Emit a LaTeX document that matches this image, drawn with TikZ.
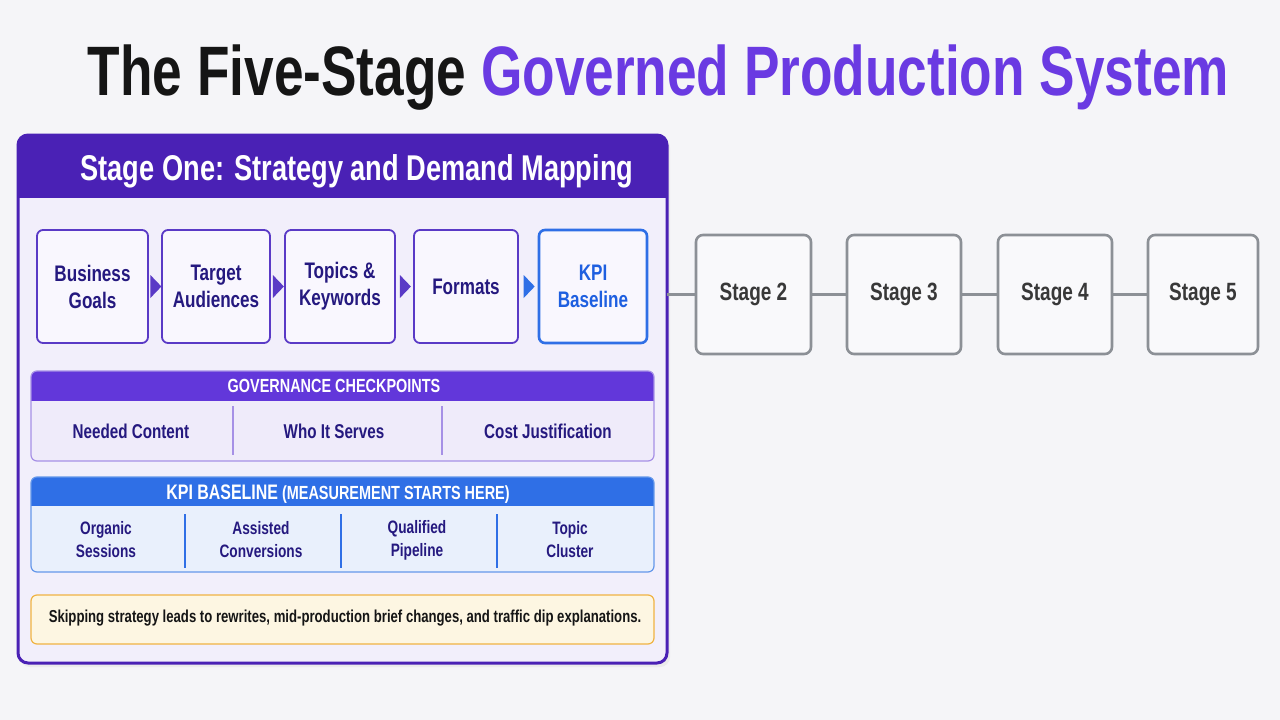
\documentclass[tikz,border=0pt]{standalone}
\usepackage{fontspec}
\setmainfont[FakeStretch=0.76]{Liberation Sans}
\usetikzlibrary{positioning,shapes.geometric,calc}

\definecolor{pagebg}{HTML}{F5F5F8}
\definecolor{titleink}{HTML}{151515}
\definecolor{titlepurple}{HTML}{6A3AE2}
\definecolor{deeppurple}{HTML}{4A21B5}
\definecolor{midpurple}{HTML}{6237DA}
\definecolor{inkblue}{HTML}{25197F}
\definecolor{panelbg}{HTML}{F2EFFB}
\definecolor{stepbg}{HTML}{F9F7FE}
\definecolor{stepline}{HTML}{5A3AC6}
\definecolor{kpiblue}{HTML}{2F6FE6}
\definecolor{kpitext}{HTML}{1E5FE0}
\definecolor{kpibody}{HTML}{E9F0FC}
\definecolor{kpiline}{HTML}{6497EA}
\definecolor{govbody}{HTML}{EFEBFA}
\definecolor{govline}{HTML}{A690E6}
\definecolor{greyline}{HTML}{8C9096}
\definecolor{greytext}{HTML}{383838}
\definecolor{warnbg}{HTML}{FDF6E2}
\definecolor{warnline}{HTML}{F0B343}

\begin{document}
\begin{tikzpicture}[
    x=1pt, y=-1pt,
    node distance=36pt,
    stepbox/.style={
        rectangle, draw=stepline, line width=1.8pt, fill=stepbg,
        minimum width=#1, minimum height=113pt, rounded corners=6pt,
        font=\fontsize{22.5}{27}\selectfont\bfseries, text=inkblue, align=center
    },
    stepbox/.default={110pt},
    stagebox/.style={
        rectangle, draw=greyline, line width=2.6pt, fill=pagebg!60!white,
        minimum width=#1, minimum height=119pt, rounded corners=7pt, outer sep=0pt,
        font=\fontsize{25}{28}\selectfont\bfseries, text=greytext
    },
    stagebox/.default={114pt},
    tri/.style={
        isosceles triangle, isosceles triangle stretches, fill=#1,
        inner sep=0pt, minimum height=11pt, minimum width=23pt
    },
    link/.style={draw=greyline, line width=3.5pt},
    hdrtext/.style={font=\fontsize{19}{21}\selectfont\bfseries, text=white},
    cell/.style={font=\fontsize{#1}{23}\selectfont\bfseries, text=inkblue, align=center},
    divider/.style={draw=#1, line width=1.2pt}
]

% Page background
\fill[pagebg] (0,0) rectangle (1280,720);

% Title
\node[font=\fontsize{70}{74}\selectfont\bfseries, anchor=base] (title) at (658.5,95)
    {\textcolor{titleink}{The Five-Stage} \textcolor{titlepurple}{Governed Production System}};

% Stage one panel
\fill[black!8, rounded corners=10pt] (20,138) rectangle (670,667);
\node[rectangle, rounded corners=10pt, fill=panelbg, minimum width=649pt,
    minimum height=528pt] (stageone) at (342.5,399) {};
\begin{scope}
    \clip[rounded corners=10pt] (18,135) rectangle (667,663);
    \fill[deeppurple] (18,135) rectangle (667,198);
\end{scope}
\draw[deeppurple, line width=3pt, rounded corners=10pt] (18,135) rectangle (667,663);
\node[font=\fontsize{35.8}{38}\selectfont\bfseries, text=white, anchor=base] (stagehead)
    at (357,180) {Stage One: Strategy and Demand Mapping};

% Steps of stage one
\node[stepbox=111pt] (goals) at (92.5,286.5) {Business\\Goals};
\node[stepbox=108pt] (audience) at (216,286.5) {Target\\Audiences};
\node[stepbox=110pt] (topics) at (340,286.5) {Topics \&\\Keywords};
\node[stepbox=104pt] (formats) at (466,286.5) {Formats};
\node[stepbox=108pt, draw=kpiblue, line width=2.6pt, text=kpitext] (kpi) at (593,286.5)
    {KPI\\Baseline};

\path (goals.east) -- node[tri=stepline] (t1) {} (audience.west);
\path (audience.east) -- node[tri=stepline] (t2) {} (topics.west);
\path (topics.east) -- node[tri=stepline] (t3) {} (formats.west);
\path (formats.east) -- node[tri=kpiblue] (t4) {} (kpi.west);

% Remaining stages
\node[stagebox=115pt] (stage2) at (753.5,294.5) {Stage 2};
\node[stagebox, right=of stage2] (stage3) {Stage 3};
\node[stagebox, right=37pt of stage3] (stage4) {Stage 4};
\node[stagebox=110pt, right=of stage4] (stage5) {Stage 5};

\draw[link] (stageone.east |- stage2.west) -- (stage2.west);
\draw[link] (stage2) -- (stage3);
\draw[link] (stage3) -- (stage4);
\draw[link] (stage4) -- (stage5);

% Governance checkpoints
\begin{scope}
    \clip[rounded corners=6pt] (31,371) rectangle (654,461);
    \fill[govbody] (31,371) rectangle (654,461);
    \fill[midpurple] (31,371) rectangle (654,401);
\end{scope}
\draw[govline, line width=1.2pt, rounded corners=6pt] (31,371) rectangle (654,461);
\node[hdrtext] (govhead) at (334,386) {GOVERNANCE CHECKPOINTS};
\draw[divider=govline] (233,406) -- (233,455);
\draw[divider=govline] (442,406) -- (442,455);
\node[cell=20] (needed) at (131,431) {Needed Content};
\node[cell=20] (serves) at (334,431) {Who It Serves};
\node[cell=20] (cost) at (548,431) {Cost Justification};

% KPI baseline
\begin{scope}
    \clip[rounded corners=6pt] (31,477) rectangle (654,572);
    \fill[kpibody] (31,477) rectangle (654,572);
    \fill[kpiblue] (31,477) rectangle (654,506);
\end{scope}
\draw[kpiline, line width=1.2pt, rounded corners=6pt] (31,477) rectangle (654,572);
\node[hdrtext, anchor=base] (kpihead) at (338,499)
    {{\fontsize{21}{21}\selectfont KPI BASELINE} (MEASUREMENT STARTS HERE)};
\draw[divider=kpiblue] (185,514) -- (185,568);
\draw[divider=kpiblue] (341,514) -- (341,568);
\draw[divider=kpiblue] (497,514) -- (497,568);
\node[cell=18] (organic) at (106,540) {Organic\\Sessions};
\node[cell=18] (assisted) at (261,540) {Assisted\\Conversions};
\node[cell=18] (pipeline) at (417,540) {Qualified\\Pipeline};
\node[cell=18] (cluster) at (570,540) {Topic\\Cluster};

% Warning note
\node[rectangle, draw=warnline, line width=1.2pt, fill=warnbg, rounded corners=6pt,
    minimum width=623pt, minimum height=49pt] (warnbox) at (342.5,619.5) {};
\node[font=\fontsize{17.3}{20}\selectfont\bfseries, text=titleink] (warning) at (345,618)
    {Skipping strategy leads to rewrites, mid-production brief changes, and traffic dip explanations.};

\end{tikzpicture}
\end{document}
